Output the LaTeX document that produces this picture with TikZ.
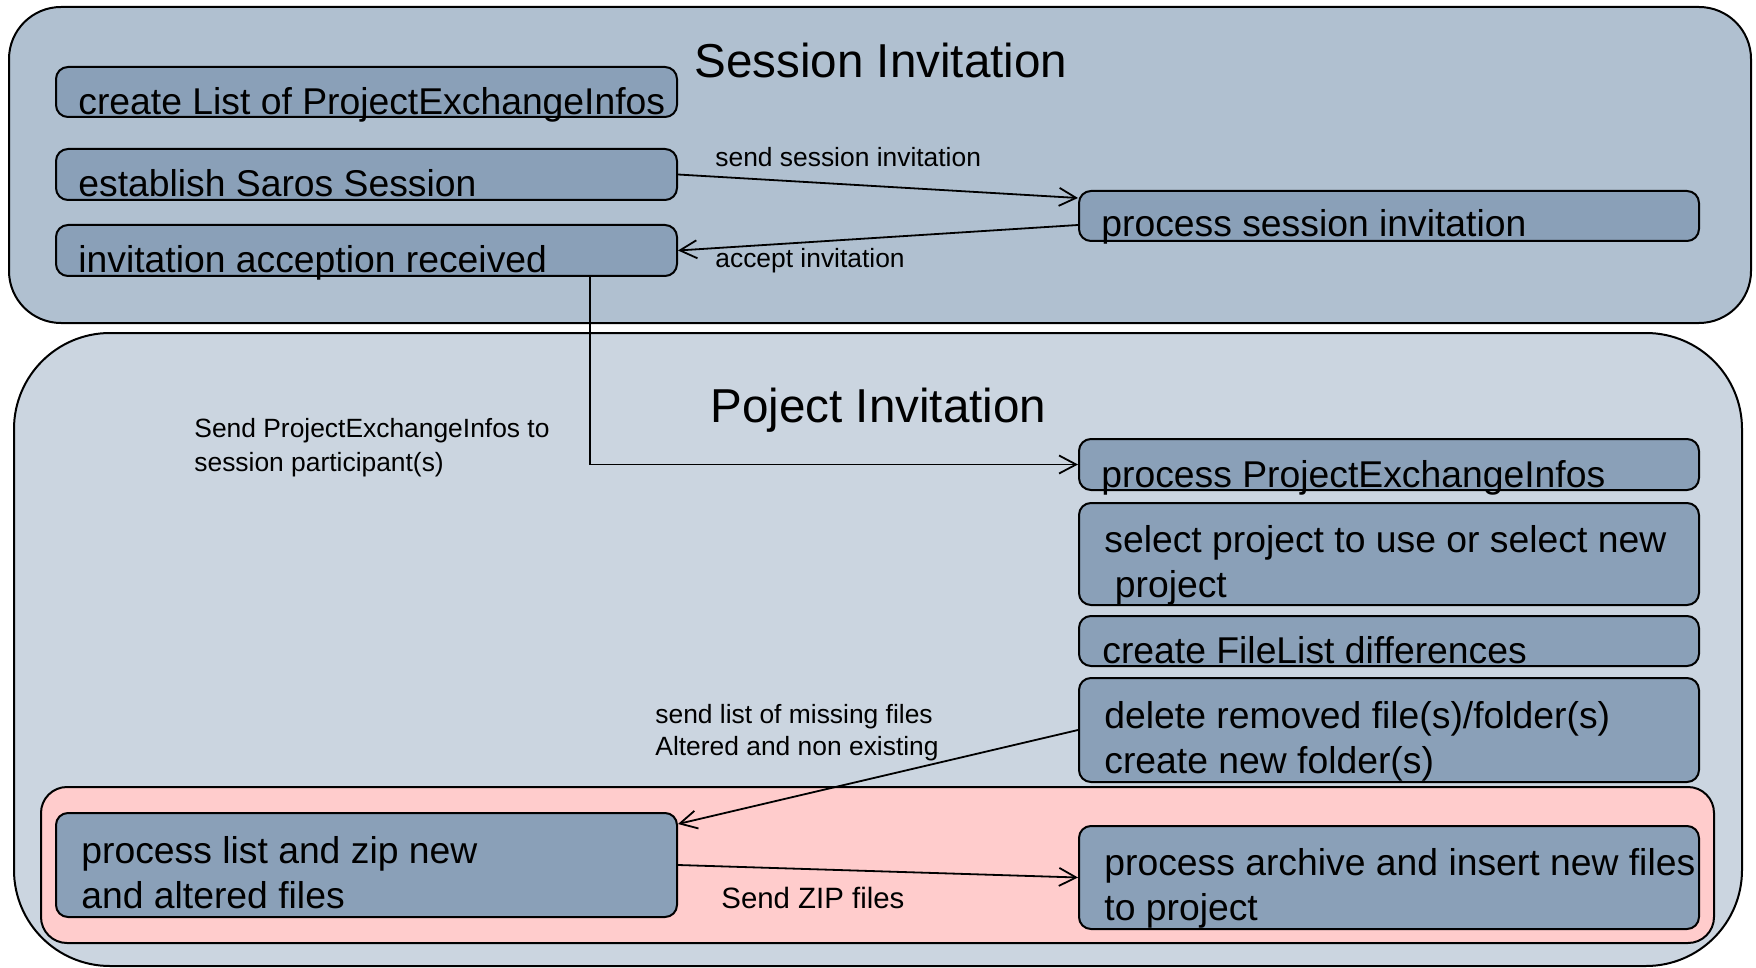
\documentclass[tikz,border=0pt]{standalone}
\usepackage{fontspec}
\setmainfont{Liberation Sans}
\usetikzlibrary{fit,calc,arrows.meta}
\definecolor{topblue}{RGB}{176,192,208}
\definecolor{projblue}{RGB}{203,213,224}
\definecolor{boxblue}{RGB}{138,160,184}
\definecolor{pinkfill}{RGB}{255,204,204}
\tikzset{
  frame/.style={draw=black, line width=1pt, inner sep=0pt, fit={#1}},
  outerA/.style={frame={#1}, fill=topblue, rounded corners=26pt},
  outerB/.style={frame={#1}, fill=projblue, rounded corners=48pt},
  pinkbox/.style={frame={#1}, fill=pinkfill, rounded corners=13pt},
  stbox/.style={frame={#1}, fill=boxblue, rounded corners=6pt},
  boxtxt/.style={anchor=base west, inner sep=0pt, align=left,
    font=\fontsize{18.65pt}{22.25pt}\selectfont},
  titletxt/.style={anchor=base west, inner sep=0pt,
    font=\fontsize{23.8pt}{28pt}\selectfont},
  lbl/.style={anchor=base west, inner sep=0pt, align=left,
    font=\fontsize{13.2pt}{16.5pt}\selectfont},
  arr/.style={-{Straight Barb[length=8.5pt,width=9pt]}, line width=0.9pt},
}
\begin{document}
\begin{tikzpicture}[x=0.5pt,y=-0.5pt]
\useasboundingbox (0,0) rectangle (1756,968);
% containers
\node[outerA={(9,7) (1751,323)}] (S) {};
\node[outerB={(14,333) (1742,966)}] (P) {};
\node[pinkbox={(41,787) (1714,943)}] (Z) {};
% titles
\node[titletxt] (St) at (694,78) {Session Invitation};
\node[titletxt] (Pt) at (710,422) {Poject Invitation};
% boxes
\node[stbox={(56,67) (677,117)}] (cl) {};
\node[stbox={(56,149) (677,200)}] (es) {};
\node[stbox={(56,225) (677,276)}] (ia) {};
\node[stbox={(1079,191) (1699,241)}] (ps) {};
\node[stbox={(1079,439) (1699,490)}] (pe) {};
\node[stbox={(1079,503) (1699,605)}] (sp) {};
\node[stbox={(1079,616) (1699,666)}] (fl) {};
\node[stbox={(1079,678) (1699,782)}] (dr) {};
\node[stbox={(56,813) (677,917)}] (pl) {};
\node[stbox={(1079,826) (1699,929)}] (pa) {};
% box texts (multi-line: anchored at last baseline)
\node[boxtxt] (clt) at (78,115) {create List of ProjectExchangeInfos};
\node[boxtxt] (est) at (78,197) {establish Saros Session};
\node[boxtxt] (iat) at (78,273) {invitation acception received};
\node[boxtxt] (pst) at (1101,237) {process session invitation};
\node[boxtxt] (pet) at (1101,487) {process ProjectExchangeInfos};
\node[boxtxt] (spt) at (1104,597) {select project to use or select new\\\hspace*{0.28em}project};
\node[boxtxt] (flt) at (1102,663) {create FileList differences};
\node[boxtxt] (drt) at (1104,773) {delete removed file(s)/folder(s)\\create new folder(s)};
\node[boxtxt] (plt) at (81,908) {process list and zip new\\and altered files};
\node[boxtxt] (pat) at (1104,920) {process archive and insert new files\\to project};
% labels
\node[lbl] (l1) at (715,167) {send session invitation};
\node[lbl] (l2) at (715,268) {accept invitation};
\node[lbl, font=\fontsize{13.2pt}{16.75pt}\selectfont] (l3) at (194,471) {Send ProjectExchangeInfos to\\session participant(s)};
\node[lbl, font=\fontsize{13.2pt}{16pt}\selectfont] (l4) at (655,755) {send list of missing files\\Altered and non existing};
\node[lbl, font=\fontsize{14.7pt}{17pt}\selectfont] (l5) at (721,908) {Send ZIP files};
% connectors
\coordinate (vx) at (590,0);
\draw[arr] (es.east) -- ($(ps.north west)+(0,8)$);
\draw[arr] ($(ps.north west)+(0,35)$) -- (ia.east);
\draw[arr] (ia.south -| vx) |- (pe.west);
\draw[arr] (dr.west) -- ($(pl.north east)+(0,12)$);
\draw[arr] (pl.east) -- (pa.west);
\end{tikzpicture}
\end{document}
